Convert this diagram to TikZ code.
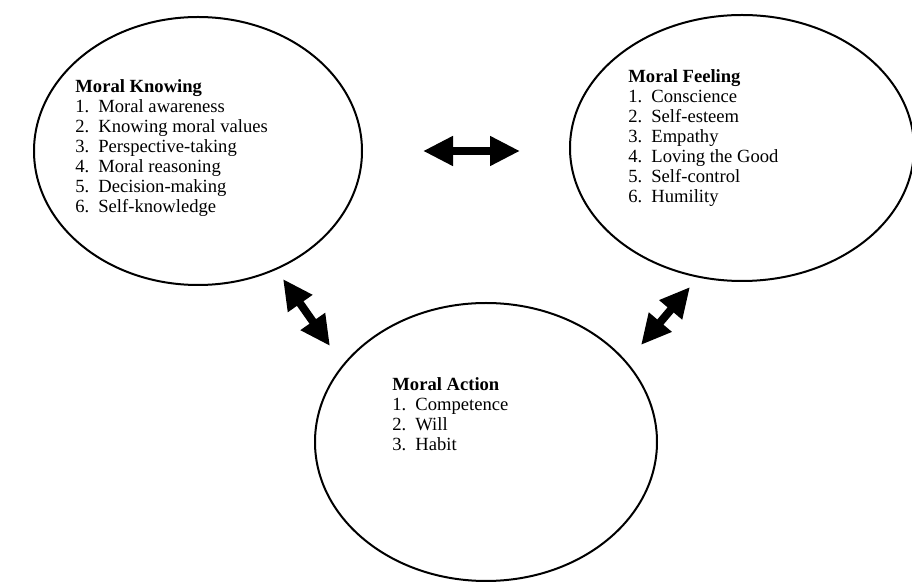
\documentclass[tikz,border=0pt]{standalone}
\usepackage{fontspec}
\setmainfont{Liberation Serif}
\usetikzlibrary{shapes.geometric, arrows.meta}
\newcommand{\itm}[2]{\makebox[11.5pt][l]{#1}#2}

\begin{document}
\begin{tikzpicture}[x=0.5pt, y=-0.5pt]
    \tikzstyle{bubble}=[draw, ellipse, line width=1pt, inner sep=0pt]
    \tikzstyle{list}=[anchor=north west, inner sep=0pt, align=left, font=\fontsize{9.3}{10}\selectfont]
    \tikzstyle{twoway}=[{Triangle[length=15pt,width=14pt]}-{Triangle[length=15pt,width=14pt]}, line width=4pt]

    \useasboundingbox (0,0) rectangle (912,582);

    % the three circles
    \node[bubble, minimum width=164pt, minimum height=134pt] (know) at (198,151) {};
    \node[bubble, minimum width=172pt, minimum height=133pt] (feel) at (742,148) {};
    \node[bubble, minimum width=171pt, minimum height=139pt] (act)  at (486,442) {};

    \node[list] (knowtxt) at (75,79) {\textbf{Moral Knowing}\\
        \itm{1.}{Moral awareness}\\
        \itm{2.}{Knowing moral values}\\
        \itm{3.}{Perspective-taking}\\
        \itm{4.}{Moral reasoning}\\
        \itm{5.}{Decision-making}\\
        \itm{6.}{Self-knowledge}};
    \node[list] (feeltxt) at (628,69) {\textbf{Moral Feeling}\\
        \itm{1.}{Conscience}\\
        \itm{2.}{Self-esteem}\\
        \itm{3.}{Empathy}\\
        \itm{4.}{Loving the Good}\\
        \itm{5.}{Self-control}\\
        \itm{6.}{Humility}};
    \node[list] (acttxt) at (392,377) {\textbf{Moral Action}\\
        \itm{1.}{Competence}\\
        \itm{2.}{Will}\\
        \itm{3.}{Habit}};

    % arrow ends
    \coordinate (kf) at (423,151);
    \coordinate (fk) at (520,151);
    \coordinate (ka) at (283,279);
    \coordinate (ak) at (330,346);
    \coordinate (fa) at (690,287);
    \coordinate (af) at (641,345);

    \draw[twoway] (kf) -- (fk);
    \draw[twoway] (ka) -- (ak);
    \draw[twoway] (fa) -- (af);
\end{tikzpicture}
\end{document}
